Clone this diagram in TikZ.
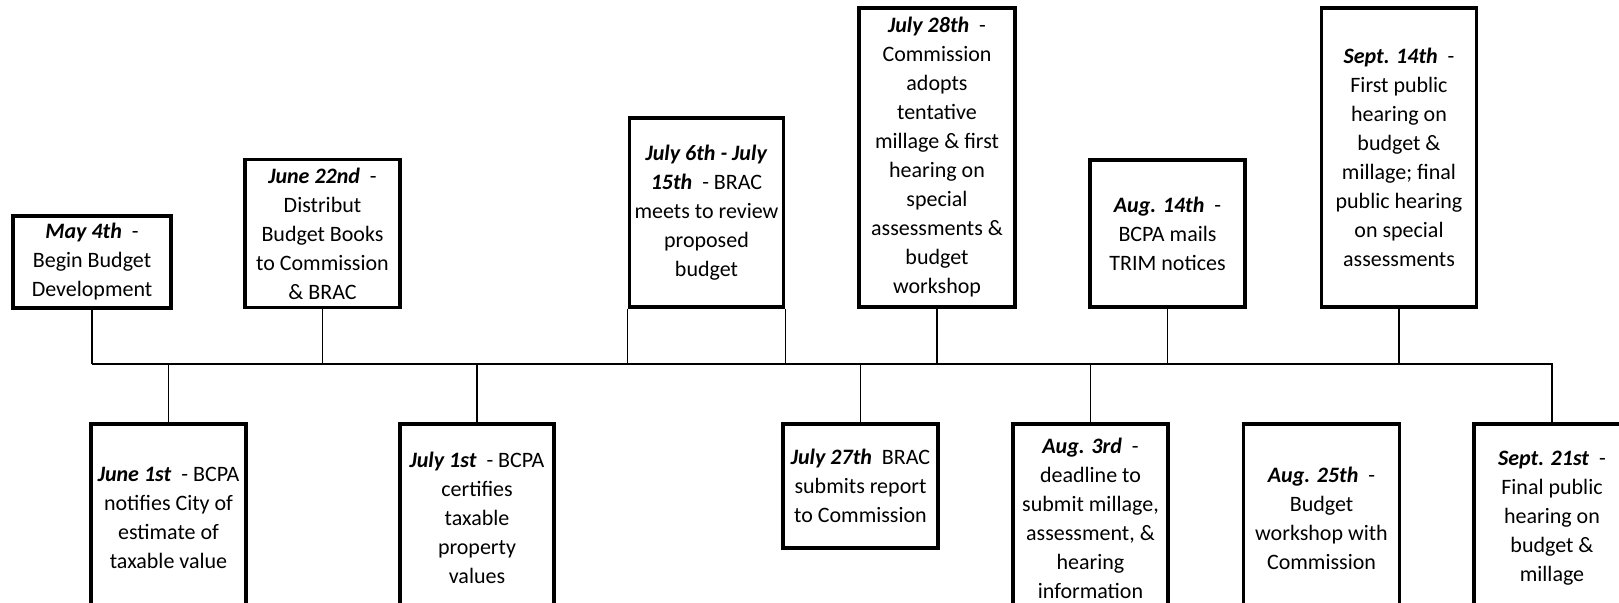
\documentclass[tikz,border=0pt]{standalone}
\usepackage{fontspec}
\setmainfont{Carlito}
\newcommand{\evdate}[1]{\textbf{\textit{#1}}}

\begin{document}
\begin{tikzpicture}[x=0.5pt, y=-0.5pt,
    event/.style={draw, line width=1.65pt, align=center, inner sep=1pt,
        font=\fontsize{11}{14.5}\selectfont},
    tick/.style={line width=0.6pt}]
    \useasboundingbox (0,0) rectangle (1619,603);
    \clip (0,0) rectangle (1619,603);

    % Above the line
    \node[event, minimum width=79pt, minimum height=46pt] (may4) at (92, 262)
        {\evdate{May 4th}\ \ -\\Begin Budget\\Development};
    \node[event, minimum width=77.5pt, minimum height=74pt] (jun22) at (322.5, 233.5)
        {\evdate{June 22nd}\ \ -\\Distribut\\Budget Books\\to Commission\\\& BRAC};
    \node[event, minimum width=77pt, minimum height=94.5pt] (jul6) at (706.5, 212.5)
        {\evdate{July 6th - July}\\\evdate{15th}\ \ - BRAC\\meets to review\\proposed\\budget};
    \node[event, minimum width=78pt, minimum height=149.5pt] (jul28) at (937, 157.5)
        {\evdate{July 28th}\ \ -\\Commission\\adopts\\tentative\\millage \& first\\hearing on\\special\\assessments \&\\budget\\workshop};
    \node[event, minimum width=77.5pt, minimum height=73.5pt] (aug14) at (1167.5, 233.5)
        {\evdate{Aug. 14th}\ \ -\\BCPA mails\\TRIM notices};
    \node[event, minimum width=77.5pt, minimum height=149.5pt] (sep14) at (1399, 157.5)
        {\evdate{Sept. 14th}\ \ -\\First public\\hearing on\\budget \&\\millage; final\\public hearing\\on special\\assessments};

    % Below the line
    \node[event, minimum width=77.5pt, minimum height=94pt] (jun1) at (168.5, 518)
        {\evdate{June 1st}\ \ - BCPA\\notifies City of\\estimate of\\taxable value};
    \node[event, minimum width=77pt, minimum height=94pt] (jul1) at (477, 518)
        {\evdate{July 1st}\ \ - BCPA\\certifies\\taxable\\property\\values};
    \node[event, minimum width=77.5pt, minimum height=62pt] (jul27) at (860.5, 486)
        {\evdate{July 27th}\ \ BRAC\\submits report\\to Commission};
    \node[event, minimum width=77.5pt, minimum height=94pt] (aug3) at (1090.5, 518)
        {\evdate{Aug. 3rd}\ \ -\\deadline to\\submit millage,\\assessment, \&\\hearing\\information};
    \node[event, minimum width=78pt, minimum height=94pt] (aug25) at (1321.5, 518)
        {\evdate{Aug. 25th}\ \ -\\Budget\\workshop with\\Commission};
    \node[event, minimum width=78pt, minimum height=94pt] (sep21) at (1552, 518)
        {\evdate{Sept. 21st}\ \ -\\Final public\\hearing on\\budget \&\\millage};

    % Timeline
    \coordinate (axis) at (0, 364);
    \draw[tick] (may4.south |- axis) -- (sep21.north |- axis) -- (sep21.north);

    % Ticks
    \draw[tick] (may4.south) -- (may4.south |- axis);
    \draw[tick] (jun22.south) -- (jun22.south |- axis);
    \draw[tick] (jul6.south west) -- (jul6.south west |- axis);
    \draw[tick] (jul6.south east) -- (jul6.south east |- axis);
    \draw[tick] (jul28.south) -- (jul28.south |- axis);
    \draw[tick] (aug14.south) -- (aug14.south |- axis);
    \draw[tick] (sep14.south) -- (sep14.south |- axis);
    \draw[tick] (jun1.north) -- (jun1.north |- axis);
    \draw[tick] (jul1.north) -- (jul1.north |- axis);
    \draw[tick] (jul27.north) -- (jul27.north |- axis);
    \draw[tick] (aug3.north) -- (aug3.north |- axis);
\end{tikzpicture}
\end{document}
